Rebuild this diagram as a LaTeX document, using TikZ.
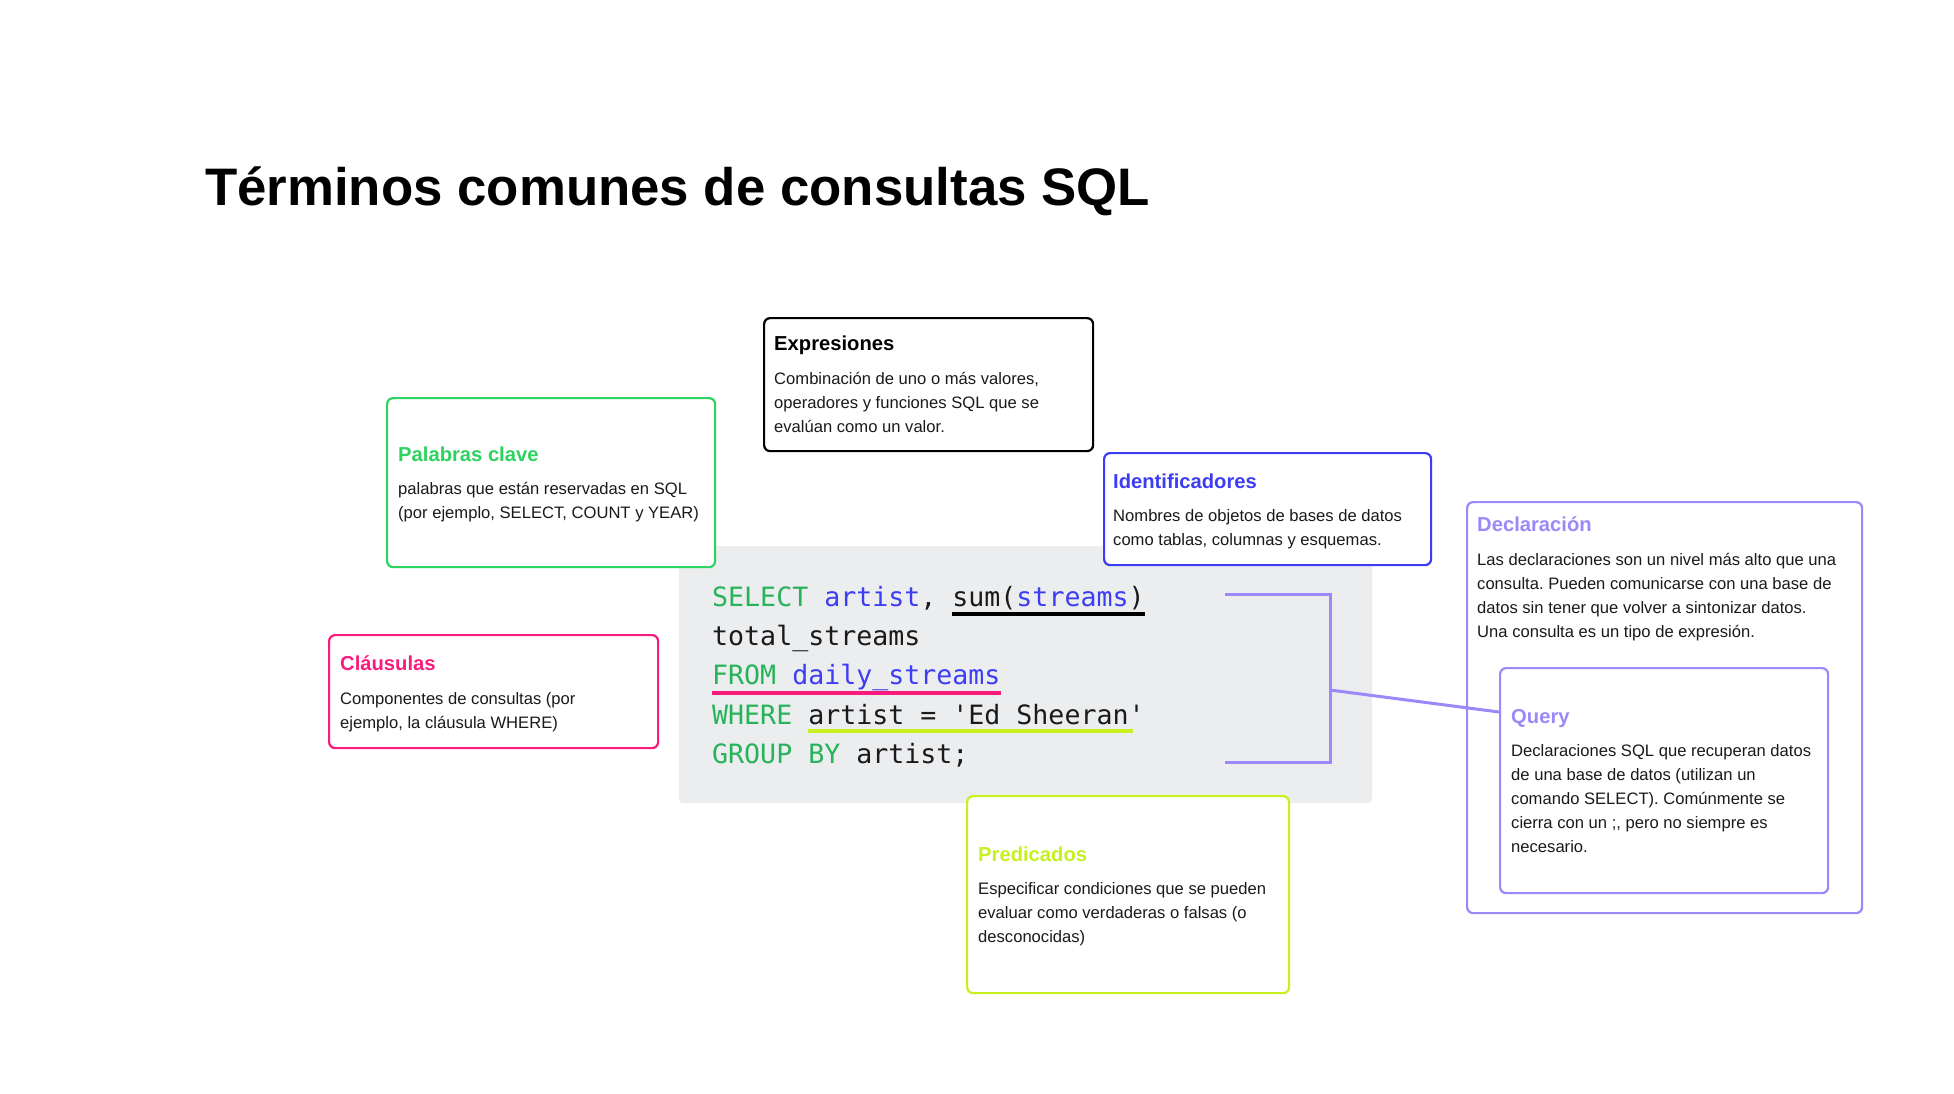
\documentclass[tikz,border=0pt]{standalone}
\usepackage{fontspec}
\setmainfont{Liberation Sans}
\newfontfamily\codefont{DejaVu Sans Mono}
\frenchspacing
\definecolor{kwgreen}{HTML}{27B35A}
\definecolor{idblue}{HTML}{3D3DF5}
\definecolor{pgreen}{HTML}{2DD35F}
\definecolor{pinkc}{HTML}{FA1C7C}
\definecolor{limec}{HTML}{C8F01E}
\definecolor{purp}{HTML}{9C88F8}
\definecolor{graybg}{HTML}{ECEDEF}
\definecolor{txt}{HTML}{1A1A1A}
\newcommand\lns[1]{\vtop{\baselineskip=24pt\lineskiplimit=-100pt\lineskip=0pt\halign{##\hfil\cr#1\crcr}}}
\tikzset{
  card/.style={draw=#1, line width=2.2pt, rounded corners=6pt, fill=white, anchor=north west, inner sep=0pt},
  cardtitle/.style={anchor=base west, inner sep=0pt, text=#1, font=\fontsize{20.2}{24}\selectfont\bfseries},
  cardbody/.style={anchor=base west, inner sep=0pt, text=txt, font=\fontsize{16.6}{24}\selectfont},
  codeline/.style={anchor=base west, inner sep=0pt, text=txt, font=\codefont\fontsize{26.6}{30}\selectfont},
  brk/.style={draw=purp, line width=3pt},
  uline/.style={line width=4.5pt, draw=#1}
}
\begin{document}
\begin{tikzpicture}[x=1pt,y=-1pt]
\useasboundingbox[fill=white] (0,0) rectangle (1954,1093);
% title
\node[anchor=base west, inner sep=0pt, font=\fontsize{52.8}{60}\selectfont\bfseries] (title) at (205,205) {Términos comunes de consultas SQL};
% code block background
\node[fill=graybg, rounded corners=4pt, anchor=north west, inner sep=0pt, minimum width=693pt, minimum height=257pt] (code) at (679,546) {};
% cards
\node[card=pgreen, minimum width=328pt, minimum height=169pt] (pal) at (386,397) {};
\node[card=black, minimum width=329pt, minimum height=133pt] (expr) at (763,317) {};
\node[card=idblue, minimum width=327pt, minimum height=112pt] (ident) at (1103,452) {};
\node[card=purp, minimum width=395pt, minimum height=411pt] (decl) at (1466,501) {};
\node[card=purp, minimum width=328pt, minimum height=225pt] (query) at (1499,667) {};
\node[card=pinkc, minimum width=329pt, minimum height=113pt] (claus) at (328,634) {};
\node[card=limec, minimum width=322pt, minimum height=197pt] (pred) at (966,795) {};
% card texts
\node[cardtitle=pgreen] (palT) at (398,461) {Palabras clave};
\node[cardbody] (palB) at (398,494) {\lns{palabras que están reservadas en SQL\cr (por ejemplo, SELECT, COUNT y YEAR)}};
\node[cardtitle=black] (exprT) at (774,350) {Expresiones};
\node[cardbody] (exprB) at (774,384) {\lns{Combinación de uno o más valores,\cr operadores y funciones SQL que se\cr evalúan como un valor.}};
\node[cardtitle=idblue] (identT) at (1113,488) {Identificadores};
\node[cardbody] (identB) at (1113,521) {\lns{Nombres de objetos de bases de datos\cr como tablas, columnas y esquemas.}};
\node[cardtitle=purp] (declT) at (1477,531) {Declaración};
\node[cardbody] (declB) at (1477,565) {\lns{Las declaraciones son un nivel más alto que una\cr consulta. Pueden comunicarse con una base de\cr datos sin tener que volver a sintonizar datos.\cr Una consulta es un tipo de expresión.}};
\node[cardtitle=purp] (queryT) at (1511,723) {Query};
\node[cardbody] (queryB) at (1511,756) {\lns{Declaraciones SQL que recuperan datos\cr de una base de datos (utilizan un\cr comando SELECT). Comúnmente se\cr cierra con un ;, pero no siempre es\cr necesario.}};
\node[cardtitle=pinkc] (clausT) at (340,670) {Cláusulas};
\node[cardbody] (clausB) at (340,704) {\lns{Componentes de consultas (por\cr ejemplo, la cláusula WHERE)}};
\node[cardtitle=limec] (predT) at (978,861) {Predicados};
\node[cardbody] (predB) at (978,894) {\lns{Especificar condiciones que se pueden\cr evaluar como verdaderas o falsas (o\cr desconocidas)}};
% code lines
\node[codeline] (c1) at (712,606) {\textcolor{kwgreen}{SELECT} \textcolor{idblue}{artist}, sum(\textcolor{idblue}{streams})};
\node[codeline] (c2) at (712,645) {total\_streams};
\node[codeline] (c3) at (712,684) {\textcolor{kwgreen}{FROM} \textcolor{idblue}{daily\_streams}};
\node[codeline] (c4) at (712,724) {\textcolor{kwgreen}{WHERE} artist = 'Ed Sheeran'};
\node[codeline] (c5) at (712,763) {\textcolor{kwgreen}{GROUP BY} artist;};
% underlines
\draw[uline=black] (952,614) -- (1145,614);
\draw[uline=pinkc] (712,693) -- (1001,693);
\draw[uline=limec] (808,731) -- (1133,731);
% bracket and connector
\coordinate (bt) at (1225,594);
\coordinate (bb) at (1225,762);
\coordinate (bm) at (1330,690);
\coordinate (qe) at (query.north west |- 0,712);
\draw[brk] (bt) -- (1330,594) -- (1330,762) -- (bb);
\draw[brk] (bm) -- (qe);
\end{tikzpicture}
\end{document}
